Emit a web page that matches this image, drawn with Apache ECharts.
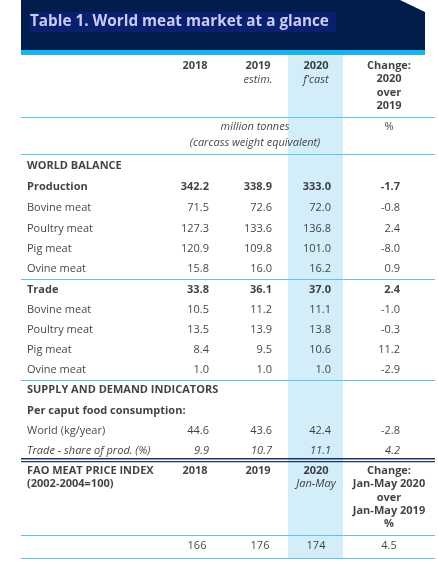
<!DOCTYPE html><html><head><meta charset="utf-8">
<script src="https://cdn.jsdelivr.net/npm/echarts@6/dist/echarts.min.js"></script>
<style>html,body{margin:0;padding:0;background:#fff}#c{width:438px;height:569px}</style></head><body><div id="c"></div><script>
const title = "Table 1. World meat market at a glance";
const rowLabels = ["Production","Bovine meat","Poultry meat","Pig meat","Ovine meat","Trade","Bovine meat","Poultry meat","Pig meat","Ovine meat","World (kg/year)","Trade - share of prod. (%)"];
const v2018 = ["342.2","71.5","127.3","120.9","15.8","33.8","10.5","13.5","8.4","1.0","44.6","9.9"];
const v2019 = ["338.9","72.6","133.6","109.8","16.0","36.1","11.2","13.9","9.5","1.0","43.6","10.7"];
const v2020 = ["333.0","72.0","136.8","101.0","16.2","37.0","11.1","13.8","10.6","1.0","42.4","11.1"];
const vChange = ["-1.7","-0.8","2.4","-8.0","0.9","2.4","-1.0","-0.3","11.2","-2.9","-2.8","4.2"];
const rowStyle = ["b","n","n","n","n","b","n","n","n","n","n","i"];
const priceIndex = ["166","176","174","4.5"];

const rowY = [187,208,229,249,269,290,310,330,350,370,431,451];
const colX = [209,272,331,400];
const F = '"Open Sans", sans-serif';
const pts = [];
function t(x,y,text,align,st){pts.push({value:[x,y],text,align,st});}
t(195,66,"2018","center","b");t(258,66,"2019","center","b");t(316,66,"2020","center","b");
t(258,80,"estim.","center","i");t(316,80,"f'cast","center","i");
["Change:","2020","over","2019"].forEach((s,i)=>t(389,66+i*13.3,s,"center","b"));
t(255,127,"million tonnes","center","i");t(255,143,"(carcass weight equivalent)","center","i");t(389,127,"%","center","n");
t(27,166,"WORLD BALANCE","left","b");
rowLabels.forEach((l,i)=>{
  t(27,rowY[i],l,"left",rowStyle[i]);
  [v2018,v2019,v2020,vChange].forEach((arr,j)=>t(colX[j],rowY[i],arr[i],"right",rowStyle[i]));
});
t(27,390,"SUPPLY AND DEMAND INDICATORS","left","b");
t(27,411,"Per caput food consumption:","left","b");
t(27,471,"FAO MEAT PRICE INDEX","left","b");t(27,484,"(2002-2004=100)","left","b");
t(195,471,"2018","center","b");t(258,471,"2019","center","b");t(316,471,"2020","center","b");t(316,484,"Jan-May","center","i");
["Change:","Jan-May 2020","over","Jan-May 2019","%"].forEach((s,i)=>t(389,471+i*13.3,s,"center","b"));
const pxC=[197,260,316,389];
priceIndex.forEach((s,j)=>t(pxC[j],546,s,"center","n"));

const sty={b:{fontWeight:'bold',fontStyle:'normal'},n:{fontWeight:'normal',fontStyle:'normal'},i:{fontWeight:'normal',fontStyle:'italic'}};
const data=pts.map(p=>({value:p.value,label:{show:true,position:'inside',formatter:p.text,align:p.align,verticalAlign:'middle',color:'#111',fontSize:11,fontFamily:F,...sty[p.st]}}));

const lineY=[117,154,279,380,535,558];
const g=[
 {type:'rect',shape:{x:288,y:55,width:55,height:503},style:{fill:'#d3edf9'},z:-10},
 {type:'polygon',shape:{points:[[21,0],[400,0],[425,12],[425,50],[21,50]]},style:{fill:'#021c4b'}},
 {type:'rect',shape:{x:21,y:50,width:404,height:5},style:{fill:'#12b5ec'}},
 {type:'rect',shape:{x:29,y:12,width:307,height:20},style:{fill:'#0a1f6e'}},
 {type:'text',x:30,y:22,style:{text:title,fill:'#c9ccf2',font:'bold 15.3px '+F,verticalAlign:'middle'}},
 {type:'rect',shape:{x:21,y:458,width:414,height:1.5},style:{fill:'#1d3560'}},
 {type:'rect',shape:{x:21,y:461,width:414,height:1.2},style:{fill:'#1d3560'}},
];
lineY.forEach(y=>g.push({type:'rect',shape:{x:21,y:y,width:414,height:1},style:{fill:'#5cc3ee'}}));
const ch=echarts.init(document.getElementById('c'));
ch.setOption({animation:false,grid:{left:0,right:0,top:0,bottom:0},
 xAxis:{type:'value',min:0,max:438,show:false},yAxis:{type:'value',min:0,max:569,inverse:true,show:false},
 graphic:g,
 series:[{type:'scatter',symbolSize:1,itemStyle:{color:'rgba(0,0,0,0)'},data:data,z:5}]});
</script></body></html>
